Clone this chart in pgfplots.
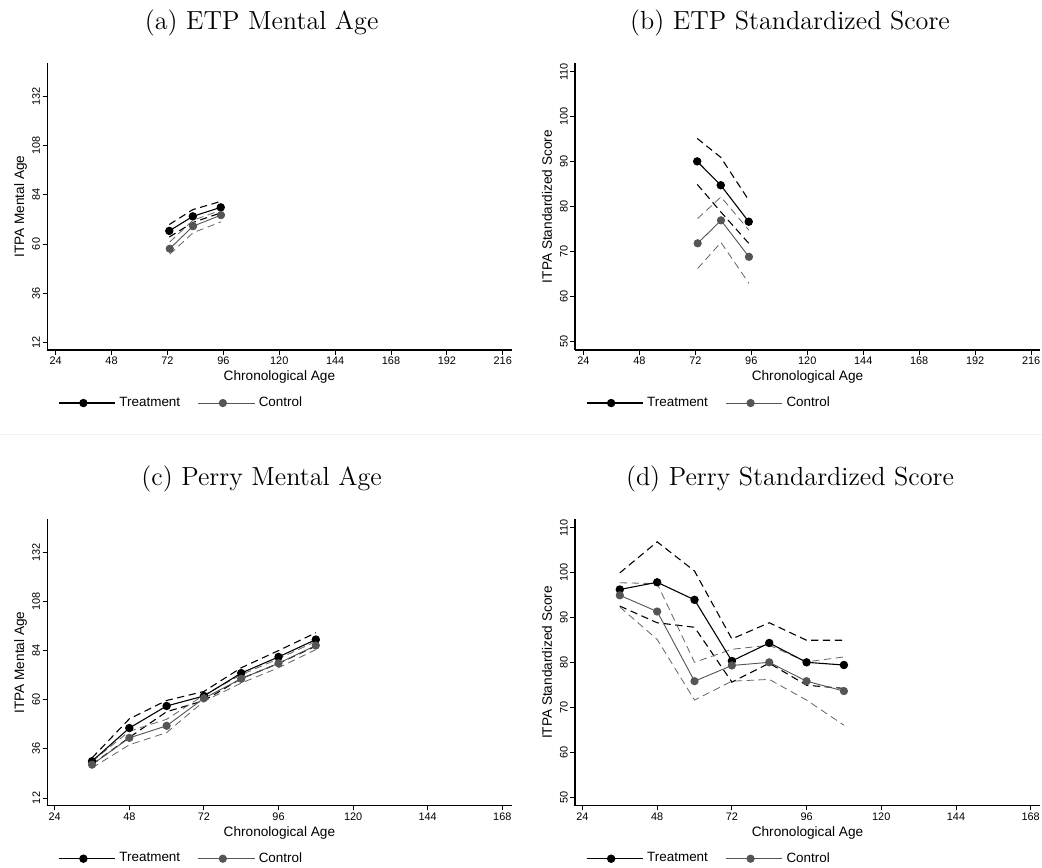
\documentclass[border=0pt]{standalone}
\usepackage{fontspec}
\usepackage{pgfplots}
\pgfplotsset{compat=1.18}
\newfontfamily\arial{Liberation Sans}
\definecolor{ctl}{HTML}{555555}
\definecolor{ctlci}{HTML}{666666}

% common Stata-like look
\pgfplotsset{
  stata/.style={
    scale only axis,
    axis x line*=bottom, axis y line*=left,
    axis line style={-, line width=0.6pt},
    tick align=outside, major tick length=2.6pt,
    tick style={black, line width=0.5pt},
    /pgf/number format/assume math mode=true,
    ticklabel style={font=\arial\fontsize{6}{7}\selectfont, inner sep=1.2pt},
    yticklabel style={rotate=90, anchor=south},
    label style={font=\arial\fontsize{7.5}{8}\selectfont},
    xlabel={Chronological Age},
    xlabel style={at={(axis description cs:0.5,-0.106)}, anchor=base},
    ylabel style={at={(axis description cs:-0.05,0.5)}, anchor=base},
    legend columns=2,
    legend style={at={(axis description cs:0.023,-0.185)}, anchor=west,
      draw=none, fill=none, inner sep=0pt,
      font=\arial\fontsize{7.4}{8}\selectfont,
      /tikz/every even column/.append style={column sep=7.7pt}},
    legend image code/.code={
      \draw[##1, mark repeat=2, mark phase=2] plot coordinates {(0pt,0pt) (13.5pt,0pt) (27pt,0pt)};
      \path (0pt,0pt) -- (31pt,0pt);
    },
  },
  mental/.style={ymin=8.2, ymax=148.3, ytick={12,36,...,132}, ylabel={ITPA Mental Age}},
  score/.style={ymin=48.2, ymax=111.9, ytick={50,60,...,110}, ylabel={ITPA Standardized Score}},
  etpx/.style={xmin=20.4, xmax=219.8, xtick={24,48,...,216}},
  perryx/.style={xmin=21.6, xmax=171, xtick={24,48,...,168}},
  trt/.style={black, line width=0.6pt, mark=*, mark size=2pt},
  con/.style={ctl, line width=0.5pt, mark=*, mark size=2pt, mark options={fill=ctl}},
  trtci/.style={black, line width=0.6pt, dash pattern=on 4pt off 2.5pt, forget plot},
  conci/.style={ctlci, line width=0.45pt, dash pattern=on 4pt off 2.5pt, forget plot},
}

\begin{document}
\begin{tikzpicture}
\useasboundingbox (0,0) rectangle (573.1pt,476.85pt);
\draw[line width=0.5pt, black!5] (0pt,238.15pt) -- (573.1pt,238.15pt);

\node[anchor=base, font=\fontsize{14.4}{17}\selectfont] at (143.9pt,460.35pt) {(a) ETP Mental Age};
\node[anchor=base, font=\fontsize{14.4}{17}\selectfont] at (434.5pt,460.35pt) {(b) ETP Standardized Score};
\node[anchor=base, font=\fontsize{14.4}{17}\selectfont] at (143.9pt,209.55pt) {(c) Perry Mental Age};
\node[anchor=base, font=\fontsize{14.4}{17}\selectfont] at (434.5pt,209.55pt) {(d) Perry Standardized Score};

% (a) ETP Mental Age
\begin{axis}[stata, mental, etpx, at={(26.0pt,284.35pt)}, anchor=south west, width=255.4pt, height=157.7pt]
\addplot[trtci] coordinates {(72.8,69.5) (82.9,76.8) (94.9,80.8)};
\addplot[trtci] coordinates {(72.8,63.4) (82.9,70.5) (94.9,75.2)};
\addplot[conci] coordinates {(73.0,61.0) (83.0,71.6) (95.0,76.5)};
\addplot[conci] coordinates {(73.0,55.0) (83.0,65.5) (95.0,70.8)};
\addplot[trt] coordinates {(72.8,66.4) (82.9,73.5) (94.9,77.9)};
\addlegendentry{Treatment}
\addplot[con] coordinates {(73.0,57.7) (83.0,68.7) (95.0,74.1)};
\addlegendentry{Control}
\end{axis}

% (b) ETP Standardized Score
\begin{axis}[stata, score, etpx, at={(316.25pt,284.35pt)}, anchor=south west, width=255.75pt, height=157.7pt]
\addplot[trtci] coordinates {(72.8,95.2) (82.9,91.0) (94.9,81.5)};
\addplot[trtci] coordinates {(72.8,85.0) (82.9,78.9) (94.9,71.9)};
\addplot[conci] coordinates {(73.0,77.4) (83.0,82.2) (95.0,74.8)};
\addplot[conci] coordinates {(73.0,66.3) (83.0,72.1) (95.0,63.0)};
\addplot[trt] coordinates {(72.8,90.1) (82.9,84.8) (94.9,76.7)};
\addlegendentry{Treatment}
\addplot[con] coordinates {(73.0,71.9) (83.0,77.0) (95.0,68.9)};
\addlegendentry{Control}
\end{axis}

% (c) Perry Mental Age
\begin{axis}[stata, mental, perryx, at={(26.0pt,33.7pt)}, anchor=south west, width=255.4pt, height=157.5pt]
\addplot[trtci] coordinates {(36,31.6) (48,50.7) (60,59.7) (72,64.1) (84,75.7) (96,84.1) (108,92.8)};
\addplot[trtci] coordinates {(36,28.4) (48,41.6) (60,54.2) (72,59.6) (84,70.4) (96,77.8) (108,86.3)};
\addplot[conci] coordinates {(36,29.9) (48,44.6) (60,50.5) (72,62.3) (84,72.3) (96,80.1) (108,88.6)};
\addplot[conci] coordinates {(36,26.7) (48,38.0) (60,44.0) (72,59.3) (84,68.2) (96,75.7) (108,84.6)};
\addplot[trt] coordinates {(36,30.0) (48,46.2) (60,57.0) (72,61.9) (84,73.1) (96,81.0) (108,89.5)};
\addlegendentry{Treatment}
\addplot[con] coordinates {(36,28.3) (48,41.4) (60,47.3) (72,60.8) (84,70.3) (96,77.9) (108,86.6)};
\addlegendentry{Control}
\end{axis}

% (d) Perry Standardized Score
\begin{axis}[stata, score, perryx, at={(316.25pt,33.7pt)}, anchor=south west, width=255.75pt, height=157.5pt]
\addplot[trtci] coordinates {(36,100.0) (48,106.9) (60,100.4) (72,85.3) (84,88.9) (96,85.0) (108,85.0)};
\addplot[trtci] coordinates {(36,92.6) (48,88.9) (60,87.9) (72,75.7) (84,79.9) (96,75.0) (108,74.3)};
\addplot[conci] coordinates {(36,97.8) (48,97.6) (60,80.1) (72,83.0) (84,83.9) (96,80.2) (108,81.3)};
\addplot[conci] coordinates {(36,92.4) (48,85.2) (60,71.7) (72,75.9) (84,76.3) (96,71.7) (108,66.1)};
\addplot[trt] coordinates {(36,96.3) (48,97.9) (60,94.0) (72,80.4) (84,84.4) (96,80.1) (108,79.5)};
\addlegendentry{Treatment}
\addplot[con] coordinates {(36,95.0) (48,91.4) (60,75.9) (72,79.4) (84,80.1) (96,75.9) (108,73.7)};
\addlegendentry{Control}
\end{axis}
\end{tikzpicture}
\end{document}
